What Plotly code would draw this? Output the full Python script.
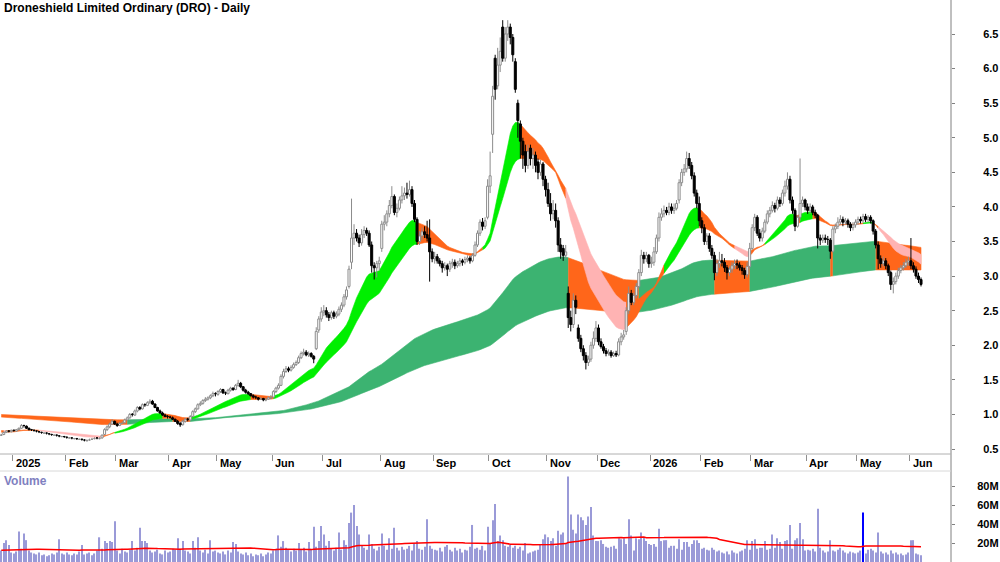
import pandas as pd
import plotly.graph_objects as go

TITLE = "Droneshield Limited Ordinary (DRO) - Daily"

# ---------------- daily OHLC (A$), Dec-2024 .. Jun-2026 ----------------
opens = [
    0.70, 0.71, 0.74, 0.76, 0.75,
    0.77, 0.76, 0.78, 0.80, 0.84, 0.83, 0.80, 0.78, 0.77, 0.76, 0.75, 0.74, 0.73, 0.73, 0.72, 0.71, 0.70, 0.70, 0.69, 0.68, 0.68,
    0.67, 0.66, 0.66, 0.65, 0.65, 0.64, 0.64, 0.63, 0.62, 0.63, 0.64, 0.65, 0.66, 0.65, 0.66, 0.71, 0.78, 0.82, 0.86, 0.90,
    0.86, 0.84, 0.87, 0.88, 0.92, 0.95, 1.00, 0.99, 1.05, 1.10, 1.08, 1.14, 1.13, 1.17, 1.19, 1.15, 1.10, 1.05, 1.02, 0.99, 0.97,
    0.96, 0.95, 0.93, 0.90, 0.87, 0.85, 0.90, 0.93, 0.92, 0.97, 1.04, 1.08, 1.14, 1.16, 1.20, 1.22, 1.24, 1.27, 1.30,
    1.29, 1.33, 1.36, 1.31, 1.30, 1.35, 1.38, 1.36, 1.42, 1.45, 1.40, 1.35, 1.32, 1.30, 1.27, 1.25, 1.24, 1.22, 1.23, 1.21, 1.22, 1.24,
    1.25, 1.33, 1.38, 1.42, 1.55, 1.62, 1.66, 1.64, 1.68, 1.72, 1.75, 1.82, 1.88, 1.90, 1.86, 1.88, 1.84, 1.95, 2.22, 2.38,
    2.48, 2.50, 2.44, 2.40, 2.47, 2.42, 2.45, 2.52, 2.58, 2.70, 2.85, 3.20, 3.55, 3.62, 3.55, 3.48, 3.60, 3.66, 3.62, 3.45, 3.15, 3.12, 3.18,
    3.40, 3.75, 3.78, 3.90, 4.02, 4.15, 3.92, 3.98, 4.10, 4.16, 4.20, 4.18, 4.25, 4.05, 3.82, 3.50, 3.58, 3.64, 3.60, 3.55, 3.35,
    3.25, 3.28, 3.22, 3.18, 3.12, 3.15, 3.10, 3.18, 3.20, 3.15, 3.18, 3.22, 3.20, 3.24, 3.26, 3.22, 3.30, 3.45, 3.62, 3.78, 3.72, 3.85,
    4.30, 5.05, 6.15, 5.75, 6.05, 6.60, 6.15, 6.50, 6.60, 6.45, 6.10, 5.50, 5.20, 4.95, 4.80, 4.60, 4.85, 4.70, 4.75, 4.65, 4.50, 4.62, 4.40,
    4.25, 4.05, 3.90, 3.95, 3.80, 3.45, 3.40, 3.30, 2.75, 2.40, 2.30, 2.65, 2.25, 2.10, 1.95, 1.85, 1.75, 1.80, 2.00, 2.10,
    2.25, 2.05, 1.98, 1.92, 1.88, 1.90, 1.85, 1.88, 1.86, 2.05, 2.12, 2.20, 2.50, 2.75, 2.62, 2.72, 2.85, 3.05, 3.30, 3.25, 3.30,
    3.18, 3.20, 3.35, 3.55, 3.85, 3.90, 3.95, 3.92, 4.00, 3.95, 3.98, 4.10, 4.35, 4.50, 4.55, 4.70, 4.60, 4.45, 4.20, 4.05,
    3.80, 3.70, 3.50, 3.58, 3.40, 3.30, 3.05, 3.18, 3.22, 3.20, 3.12, 3.05, 3.10, 3.15, 3.18, 3.16, 3.12, 3.08, 3.02, 3.14,
    3.40, 3.70, 3.85, 3.62, 3.55, 3.65, 3.78, 3.90, 3.95, 4.02, 3.98, 4.10, 4.05, 4.20, 4.30, 4.40, 4.10, 3.95, 3.72, 3.85, 4.05, 4.10,
    4.00, 3.95, 4.00, 3.92, 3.88, 3.55, 3.52, 3.55, 3.53, 3.52, 3.36, 3.68, 3.72, 3.78, 3.82, 3.78, 3.80, 3.75, 3.70, 3.74,
    3.78, 3.82, 3.80, 3.86, 3.82, 3.85, 3.80, 3.65, 3.45, 3.25, 3.18, 3.22, 3.15, 3.05, 2.88, 2.92, 3.00, 3.08, 3.12, 3.15, 3.20,
    3.22, 3.15, 3.10, 3.00, 2.95,
]
highs = [
    0.72, 0.75, 0.77, 0.77, 0.78,
    0.78, 0.79, 0.81, 0.86, 0.85, 0.84, 0.81, 0.79, 0.78, 0.77, 0.76, 0.75, 0.74, 0.74, 0.73, 0.72, 0.71, 0.71, 0.70, 0.69, 0.69,
    0.68, 0.67, 0.67, 0.66, 0.66, 0.65, 0.65, 0.64, 0.64, 0.65, 0.66, 0.67, 0.67, 0.67, 0.71, 0.80, 0.84, 0.88, 0.93, 0.91,
    0.88, 0.89, 0.90, 0.94, 0.97, 1.02, 1.02, 1.07, 1.12, 1.12, 1.16, 1.16, 1.19, 1.22, 1.21, 1.16, 1.11, 1.07, 1.04, 1.01, 0.99,
    0.98, 0.97, 0.94, 0.92, 0.89, 0.92, 0.95, 0.95, 0.99, 1.06, 1.10, 1.16, 1.19, 1.22, 1.25, 1.26, 1.29, 1.33, 1.32,
    1.35, 1.38, 1.37, 1.33, 1.37, 1.40, 1.39, 1.44, 1.50, 1.47, 1.41, 1.37, 1.34, 1.31, 1.29, 1.27, 1.25, 1.25, 1.24, 1.24, 1.26, 1.28,
    1.35, 1.40, 1.45, 1.58, 1.66, 1.70, 1.69, 1.71, 1.75, 1.78, 1.85, 1.91, 1.95, 1.93, 1.91, 1.90, 1.86, 2.26, 2.42, 2.55,
    2.58, 2.55, 2.48, 2.50, 2.50, 2.49, 2.56, 2.62, 2.74, 2.85, 3.15, 4.12, 3.75, 3.68, 3.60, 3.68, 3.72, 3.70, 3.66, 3.50, 3.20, 3.22, 3.28,
    3.80, 3.88, 3.95, 4.10, 4.30, 4.18, 4.05, 4.15, 4.30, 4.28, 4.35, 4.38, 4.30, 4.10, 3.85, 3.65, 3.70, 3.72, 3.80, 3.82, 3.40,
    3.35, 3.32, 3.26, 3.22, 3.20, 3.18, 3.22, 3.25, 3.24, 3.22, 3.26, 3.25, 3.28, 3.30, 3.29, 3.33, 3.50, 3.66, 3.82, 3.84, 3.85, 4.40,
    4.80, 5.75, 6.20, 6.30, 6.45, 6.70, 6.60, 6.70, 6.65, 6.50, 6.15, 5.55, 5.25, 5.00, 4.90, 4.90, 4.90, 4.85, 4.80, 4.70, 4.68, 4.65, 4.45,
    4.35, 4.20, 4.10, 4.05, 3.85, 3.55, 3.45, 3.45, 2.85, 2.50, 2.75, 2.72, 2.30, 2.15, 2.00, 1.90, 1.85, 2.05, 2.20, 2.35,
    2.30, 2.10, 2.02, 1.96, 1.94, 1.93, 1.91, 1.92, 2.10, 2.18, 2.22, 2.55, 2.85, 2.80, 2.76, 2.90, 3.10, 3.38, 3.35, 3.35, 3.32,
    3.28, 3.42, 3.60, 3.92, 3.98, 4.02, 4.00, 4.06, 4.05, 4.05, 4.10, 4.40, 4.55, 4.62, 4.80, 4.78, 4.65, 4.50, 4.25, 4.15,
    3.85, 3.75, 3.62, 3.62, 3.45, 3.35, 3.25, 3.35, 3.32, 3.26, 3.16, 3.14, 3.20, 3.24, 3.24, 3.20, 3.16, 3.12, 3.20, 3.48,
    3.75, 3.90, 3.88, 3.68, 3.70, 3.82, 3.95, 4.00, 4.08, 4.06, 4.15, 4.14, 4.25, 4.38, 4.50, 4.45, 4.15, 3.98, 3.88, 4.70, 4.15, 4.12,
    4.05, 4.05, 4.03, 3.96, 3.90, 3.60, 3.60, 3.60, 3.58, 3.55, 3.72, 3.76, 3.85, 3.88, 3.86, 3.84, 3.83, 3.78, 3.78, 3.82,
    3.86, 3.86, 3.90, 3.90, 3.88, 3.88, 3.82, 3.68, 3.50, 3.30, 3.28, 3.26, 3.18, 3.08, 2.98, 3.05, 3.12, 3.16, 3.20, 3.25, 3.28,
    3.55, 3.20, 3.14, 3.05, 2.98,
]
lows = [
    0.69, 0.70, 0.73, 0.74, 0.74,
    0.75, 0.75, 0.77, 0.79, 0.81, 0.79, 0.77, 0.76, 0.75, 0.74, 0.73, 0.72, 0.72, 0.71, 0.70, 0.69, 0.69, 0.68, 0.67, 0.67, 0.66,
    0.65, 0.65, 0.64, 0.64, 0.63, 0.63, 0.62, 0.61, 0.61, 0.62, 0.63, 0.64, 0.64, 0.64, 0.65, 0.70, 0.76, 0.80, 0.85, 0.85,
    0.82, 0.83, 0.86, 0.87, 0.91, 0.94, 0.97, 0.98, 1.03, 1.06, 1.07, 1.11, 1.12, 1.15, 1.14, 1.09, 1.04, 1.01, 0.98, 0.96, 0.94,
    0.94, 0.92, 0.89, 0.85, 0.82, 0.84, 0.88, 0.90, 0.91, 0.96, 1.02, 1.07, 1.12, 1.14, 1.18, 1.20, 1.22, 1.25, 1.26,
    1.27, 1.31, 1.30, 1.28, 1.29, 1.33, 1.34, 1.35, 1.40, 1.38, 1.33, 1.30, 1.28, 1.26, 1.23, 1.22, 1.20, 1.21, 1.19, 1.19, 1.21, 1.22,
    1.24, 1.31, 1.36, 1.41, 1.52, 1.60, 1.61, 1.62, 1.66, 1.70, 1.73, 1.80, 1.85, 1.84, 1.83, 1.82, 1.74, 1.93, 2.18, 2.34,
    2.42, 2.40, 2.35, 2.37, 2.38, 2.39, 2.42, 2.48, 2.55, 2.66, 2.82, 3.10, 3.45, 3.50, 3.42, 3.44, 3.55, 3.58, 3.42, 3.05, 2.95, 2.98, 3.08,
    3.35, 3.66, 3.72, 3.85, 3.98, 3.88, 3.85, 3.95, 4.05, 4.10, 4.12, 4.15, 4.00, 3.78, 3.45, 3.45, 3.52, 3.55, 3.50, 2.92, 3.20,
    3.18, 3.18, 3.14, 3.05, 3.08, 3.00, 3.06, 3.12, 3.10, 3.12, 3.14, 3.15, 3.17, 3.20, 3.18, 3.20, 3.28, 3.42, 3.58, 3.66, 3.68, 3.82,
    4.20, 4.78, 5.55, 5.70, 5.95, 6.10, 6.10, 6.40, 6.35, 6.10, 5.65, 5.00, 4.70, 4.55, 4.50, 4.55, 4.60, 4.55, 4.50, 4.40, 4.45, 4.30, 4.15,
    4.00, 3.80, 3.82, 3.70, 3.35, 3.25, 3.22, 3.25, 2.25, 2.20, 2.25, 2.45, 2.05, 1.90, 1.78, 1.65, 1.70, 1.76, 1.95, 2.05,
    2.00, 1.95, 1.88, 1.84, 1.85, 1.82, 1.83, 1.83, 1.84, 2.00, 2.08, 2.15, 2.45, 2.58, 2.58, 2.68, 2.82, 3.00, 3.18, 3.20, 3.12,
    3.12, 3.15, 3.32, 3.50, 3.80, 3.85, 3.88, 3.88, 3.90, 3.90, 3.95, 4.05, 4.30, 4.45, 4.50, 4.55, 4.40, 4.15, 3.98, 3.72,
    3.62, 3.45, 3.45, 3.35, 3.25, 2.94, 3.00, 3.12, 3.14, 3.06, 2.95, 3.00, 3.05, 3.10, 3.10, 3.08, 3.02, 2.96, 2.98, 3.10,
    3.38, 3.65, 3.58, 3.50, 3.50, 3.62, 3.75, 3.85, 3.92, 3.92, 3.95, 4.00, 4.02, 4.15, 4.25, 4.05, 3.90, 3.65, 3.70, 3.80, 4.00, 3.95,
    3.90, 3.90, 3.88, 3.84, 3.40, 3.45, 3.48, 3.48, 3.45, 3.25, 3.34, 3.62, 3.68, 3.74, 3.72, 3.74, 3.70, 3.65, 3.66, 3.70,
    3.74, 3.76, 3.77, 3.78, 3.78, 3.76, 3.60, 3.40, 3.10, 3.12, 3.14, 3.10, 3.00, 2.80, 2.75, 2.88, 2.96, 3.04, 3.08, 3.12, 3.15,
    3.10, 3.05, 2.96, 2.90, 2.85,
]
closes = [
    0.71, 0.74, 0.76, 0.75, 0.77,
    0.76, 0.78, 0.80, 0.84, 0.83, 0.80, 0.78, 0.77, 0.76, 0.75, 0.74, 0.73, 0.73, 0.72, 0.71, 0.70, 0.70, 0.69, 0.68, 0.68, 0.67,
    0.66, 0.66, 0.65, 0.65, 0.64, 0.64, 0.63, 0.62, 0.63, 0.64, 0.65, 0.66, 0.65, 0.66, 0.70, 0.78, 0.82, 0.86, 0.90, 0.86,
    0.84, 0.87, 0.88, 0.92, 0.95, 1.00, 0.99, 1.05, 1.10, 1.08, 1.14, 1.13, 1.17, 1.19, 1.15, 1.10, 1.05, 1.02, 0.99, 0.97, 0.96,
    0.95, 0.93, 0.90, 0.87, 0.85, 0.90, 0.93, 0.92, 0.97, 1.04, 1.08, 1.14, 1.16, 1.20, 1.22, 1.24, 1.27, 1.30, 1.29,
    1.33, 1.36, 1.31, 1.30, 1.35, 1.38, 1.36, 1.42, 1.45, 1.40, 1.35, 1.32, 1.30, 1.27, 1.25, 1.24, 1.22, 1.23, 1.21, 1.22, 1.24, 1.25,
    1.33, 1.38, 1.42, 1.55, 1.62, 1.66, 1.64, 1.68, 1.72, 1.75, 1.82, 1.88, 1.90, 1.86, 1.88, 1.84, 1.80, 2.20, 2.38, 2.48,
    2.50, 2.44, 2.40, 2.47, 2.42, 2.45, 2.52, 2.58, 2.70, 2.80, 3.10, 3.55, 3.62, 3.55, 3.48, 3.60, 3.66, 3.62, 3.45, 3.15, 3.12, 3.18, 3.22,
    3.75, 3.78, 3.90, 4.02, 4.15, 3.92, 3.98, 4.10, 4.16, 4.20, 4.18, 4.25, 4.05, 3.82, 3.50, 3.58, 3.64, 3.60, 3.55, 3.35, 3.25,
    3.28, 3.22, 3.18, 3.12, 3.15, 3.10, 3.18, 3.20, 3.15, 3.18, 3.22, 3.20, 3.24, 3.26, 3.22, 3.30, 3.45, 3.62, 3.78, 3.72, 3.80, 4.30,
    4.45, 5.60, 5.70, 6.05, 6.25, 6.15, 6.50, 6.60, 6.45, 6.20, 5.70, 5.25, 4.95, 4.75, 4.60, 4.80, 4.70, 4.75, 4.60, 4.50, 4.62, 4.40, 4.25,
    4.05, 3.90, 3.95, 3.80, 3.45, 3.35, 3.30, 3.35, 2.40, 2.30, 2.65, 2.55, 2.10, 1.95, 1.85, 1.75, 1.80, 2.00, 2.10, 2.25,
    2.05, 1.98, 1.92, 1.88, 1.90, 1.85, 1.88, 1.86, 2.05, 2.12, 2.15, 2.50, 2.75, 2.62, 2.72, 2.85, 3.05, 3.30, 3.25, 3.30, 3.18,
    3.20, 3.35, 3.55, 3.85, 3.90, 3.95, 3.92, 4.00, 3.95, 3.98, 4.05, 4.35, 4.50, 4.55, 4.70, 4.60, 4.45, 4.20, 4.05, 3.80,
    3.70, 3.50, 3.58, 3.40, 3.30, 3.05, 3.18, 3.22, 3.20, 3.12, 3.05, 3.10, 3.15, 3.18, 3.16, 3.12, 3.08, 3.02, 3.14, 3.40,
    3.70, 3.85, 3.62, 3.55, 3.65, 3.78, 3.90, 3.95, 4.02, 3.98, 4.10, 4.05, 4.20, 4.30, 4.40, 4.10, 3.95, 3.72, 3.85, 4.05, 4.10, 4.00,
    3.95, 4.00, 3.92, 3.88, 3.55, 3.52, 3.55, 3.53, 3.52, 3.36, 3.68, 3.72, 3.78, 3.82, 3.78, 3.80, 3.75, 3.70, 3.74, 3.78,
    3.82, 3.80, 3.86, 3.82, 3.85, 3.80, 3.65, 3.45, 3.25, 3.18, 3.22, 3.15, 3.05, 2.88, 2.92, 3.00, 3.08, 3.12, 3.15, 3.20, 3.22,
    3.15, 3.10, 3.00, 2.95, 2.88,
]
# daily volume, millions of shares
volumes_m = [
    12, 20, 23, 18, 10,
    9, 11, 32, 14, 30, 23, 12, 10, 9, 8, 10, 7, 8, 6, 7, 9, 8, 10, 24, 9, 8,
    10, 8, 7, 9, 8, 11, 18, 8, 9, 10, 7, 9, 12, 26, 14, 22, 20, 22, 21, 43,
    12, 9, 14, 11, 10, 13, 22, 12, 15, 36, 22, 22, 20, 12, 10, 11, 13, 9, 8, 12, 10,
    11, 14, 13, 25, 14, 22, 12, 11, 9, 22, 15, 26, 12, 10, 13, 9, 23, 11, 12,
    10, 9, 11, 8, 12, 10, 21, 19, 11, 9, 8, 10, 7, 9, 6, 8, 7, 9, 6, 8, 10, 9,
    12, 14, 28, 16, 22, 15, 13, 11, 14, 12, 20, 13, 15, 11, 21, 14, 37, 16, 22, 38,
    29, 17, 22, 14, 12, 15, 31, 13, 23, 18, 41, 52, 60, 38, 29, 17, 15, 13, 29, 19, 14, 12, 16,
    30, 17, 13, 25, 14, 36, 15, 12, 16, 13, 14, 17, 12, 20, 22, 14, 13, 16, 45, 17, 14,
    13, 12, 15, 11, 16, 18, 13, 11, 15, 12, 14, 10, 13, 12, 16, 39, 14, 15, 13, 17, 12, 37,
    20, 44, 61, 22, 28, 23, 17, 16, 18, 15, 17, 14, 16, 12, 20, 9, 10, 11, 12, 13, 18, 24, 29,
    26, 22, 25, 17, 33, 29, 31, 20, 90, 50, 34, 30, 50, 47, 44, 39, 48, 58, 28, 22,
    22, 23, 19, 16, 15, 16, 17, 14, 25, 24, 25, 19, 45, 28, 12, 25, 24, 31, 26, 22, 19,
    18, 19, 16, 35, 22, 23, 23, 15, 17, 17, 14, 24, 13, 21, 21, 16, 19, 23, 23, 20,
    14, 15, 13, 12, 15, 13, 11, 12, 10, 9, 11, 8, 12, 10, 9, 11, 12, 14, 23, 13,
    22, 24, 14, 15, 15, 22, 13, 14, 29, 15, 25, 21, 14, 22, 23, 39, 14, 23, 25, 41, 24, 12,
    13, 12, 14, 11, 56, 15, 12, 10, 11, 23, 12, 11, 13, 15, 12, 10, 9, 11, 10, 9,
    10, 12, 52, 9, 13, 14, 12, 10, 31, 11, 9, 10, 8, 12, 9, 10, 8, 9, 7, 8, 10,
    23, 23, 9, 8, 7,
]

first_day = "2024-12-23"
last_day = "2026-06-05"
asx_holidays = ["2024-12-25", "2024-12-26", "2025-01-01", "2025-01-27", "2025-04-18",
                "2025-04-21", "2025-04-25", "2025-06-09", "2025-12-25", "2025-12-26",
                "2026-01-01", "2026-01-26", "2026-04-03", "2026-04-06"]
highlight_day = "2026-05-05"

short_periods = [20, 23, 26, 29, 32, 35]
long_periods = [150, 176, 202, 228, 254, 280]
short_seed = [0.745, 0.75, 0.755, 0.76, 0.765, 0.77]
long_seed = [0.965, 0.972, 0.979, 0.986, 0.993, 1.0]
vol_ma_window = 60
vol_ma_seed = 12.5

price_ticks = [0.5, 1.0, 1.5, 2.0, 2.5, 3.0, 3.5, 4.0, 4.5, 5.0, 5.5, 6.0, 6.5]
vol_ticks = [20, 40, 60, 80]

# ---------------- derived ----------------
dates = pd.bdate_range(first_day, last_day)
dates = dates[~dates.isin(pd.to_datetime(asx_holidays))]
n = min(len(dates), len(opens), len(highs), len(lows), len(closes), len(volumes_m))
dates = dates[:n]
idx = list(range(n))
O, H, L, C = opens[:n], highs[:n], lows[:n], closes[:n]
H = [max(h, o, c) for h, o, c in zip(H, O, C)]
L = [min(l, o, c) for l, o, c in zip(L, O, C)]
V = volumes_m[:n]


def ema(vals, period, seed):
    a = 2.0 / (period + 1)
    e = seed
    out = []
    for v in vals:
        e += a * (v - e)
        out.append(e)
    return out


short_e = [ema(C, p, s) for p, s in zip(short_periods, short_seed)]
long_e = [ema(C, p, s) for p, s in zip(long_periods, long_seed)]
s_top = [max(e[i] for e in short_e) for i in idx]
s_bot = [min(e[i] for e in short_e) for i in idx]
l_top = [max(e[i] for e in long_e) for i in idx]
l_bot = [min(e[i] for e in long_e) for i in idx]

GREEN = "#00ef00"
ORANGE = "#ff661a"
PINK = "#ffb3b3"
LGREEN = "#3cb371"

fast = short_e[0]
s_col = []
for i in idx:
    v = [e[i] for e in short_e]
    rising = i == 0 or fast[i] >= fast[i - 1]
    if rising and all(v[k] > v[k + 1] for k in range(len(v) - 1)):
        s_col.append(GREEN)
    elif (not rising) and all(v[k] < v[k + 1] for k in range(len(v) - 1)):
        s_col.append(PINK)
    else:
        s_col.append(ORANGE)
l_col = [ORANGE if C[i] < l_top[i] else LGREEN for i in idx]


def band_traces(top, bot, cols):
    traces = []
    start = 0
    for k in range(1, n + 1):
        if k == n or cols[k] != cols[start]:
            end = min(k, n - 1)
            seg = list(range(start, end + 1))
            xs = seg + seg[::-1]
            ys = [top[j] for j in seg] + [bot[j] for j in seg[::-1]]
            traces.append(go.Scatter(x=xs, y=ys, fill="toself", fillcolor=cols[start],
                                     mode="lines", line=dict(width=0.6, color=cols[start]),
                                     hoverinfo="skip", showlegend=False))
            start = k
    return traces


fig = go.Figure()
for t in band_traces(l_top, l_bot, l_col):
    fig.add_trace(t)
for t in band_traces(s_top, s_bot, s_col):
    fig.add_trace(t)

# candles (wicks then bodies)
hw = 0.4
wu_x, wu_y, wd_x, wd_y = [], [], [], []
bu_x, bu_y, bd_x, bd_y = [], [], [], []
for i in idx:
    o, h, l, c = O[i], H[i], L[i], C[i]
    if c >= o:
        wu_x += [i, i, None]; wu_y += [l, h, None]
        bu_x += [i - hw, i + hw, i + hw, i - hw, i - hw, None]
        bu_y += [o, o, c, c, o, None]
    else:
        wd_x += [i, i, None]; wd_y += [l, h, None]
        bd_x += [i - hw, i + hw, i + hw, i - hw, i - hw, None]
        bd_y += [o, o, c, c, o, None]
fig.add_trace(go.Scatter(x=wu_x, y=wu_y, mode="lines", line=dict(color="#8c8c8c", width=1),
                         hoverinfo="skip", showlegend=False))
fig.add_trace(go.Scatter(x=wd_x, y=wd_y, mode="lines", line=dict(color="black", width=1),
                         hoverinfo="skip", showlegend=False))
fig.add_trace(go.Scatter(x=bu_x, y=bu_y, mode="lines", fill="toself", fillcolor="white",
                         line=dict(color="#8c8c8c", width=1), hoverinfo="skip", showlegend=False))
fig.add_trace(go.Scatter(x=bd_x, y=bd_y, mode="lines", fill="toself", fillcolor="black",
                         line=dict(color="black", width=1), hoverinfo="skip", showlegend=False))

# volume
hl = pd.Timestamp(highlight_day)
vcols = ["#0000ff" if d == hl else "#9a9ad8" for d in dates]
fig.add_trace(go.Bar(x=idx, y=V, marker=dict(color=vcols, line=dict(width=0)), width=0.45,
                     xaxis="x2", yaxis="y2", hoverinfo="skip", showlegend=False))
padded = pd.Series([vol_ma_seed] * (vol_ma_window - 1) + list(V))
vma = padded.rolling(vol_ma_window).mean().iloc[vol_ma_window - 1:].tolist()
fig.add_trace(go.Scatter(x=idx, y=vma, mode="lines", line=dict(color="#ff0000", width=1.5),
                         xaxis="x2", yaxis="y2", hoverinfo="skip", showlegend=False))

# month boundaries
month_starts, month_labels = [], []
for i in range(1, n):
    if dates[i].month != dates[i - 1].month:
        month_starts.append(i)
        month_labels.append(str(dates[i].year) if dates[i].month == 1 else dates[i].strftime("%b"))

FONT = "Liberation Sans, Arial, sans-serif"
XR = [-0.5, 376.9]
P_BOT = (562 - 454) / 562
V_TOP = (562 - 471) / 562

annotations = []
for s, lab in zip(month_starts, month_labels):
    annotations.append(dict(x=s - 0.5, y=(562 - 463) / 562, xref="x", yref="paper",
                            text="<b>%s</b>" % lab, showarrow=False, xanchor="left",
                            yanchor="middle", xshift=1,
                            font=dict(family=FONT, size=11, color="black")))
annotations.append(dict(x=0, y=1, xref="paper", yref="paper", text="<b>%s</b>" % TITLE,
                        showarrow=False, xanchor="left", yanchor="top", xshift=2, yshift=1,
                        font=dict(family=FONT, size=12, color="black")))
annotations.append(dict(x=0, y=V_TOP, xref="paper", yref="paper", text="<b>Volume</b>",
                        showarrow=False, xanchor="left", yanchor="top", xshift=2, yshift=-1,
                        font=dict(family=FONT, size=12, color="#8080c0")))

shapes = [
    dict(type="line", xref="paper", yref="paper", x0=1, x1=1, y0=0, y1=1,
         line=dict(color="#808080", width=1)),
    dict(type="line", xref="paper", yref="paper", x0=0, x1=1, y0=P_BOT, y1=P_BOT,
         line=dict(color="#b0b0b0", width=1)),
    dict(type="line", xref="paper", yref="paper", x0=0, x1=1, y0=V_TOP, y1=V_TOP,
         line=dict(color="#d8d8d8", width=1)),
]

fig.update_layout(
    width=1000, height=562, margin=dict(l=0, r=49, t=0, b=0),
    paper_bgcolor="white", plot_bgcolor="white", showlegend=False,
    annotations=annotations, shapes=shapes,
    xaxis=dict(domain=[0, 1], range=XR, anchor="y", showgrid=False, zeroline=False,
               showline=False, tickvals=[s - 0.5 for s in month_starts], ticks="outside",
               ticklen=6, tickcolor="#909090", showticklabels=False, fixedrange=True),
    xaxis2=dict(domain=[0, 1], range=XR, anchor="y2", showgrid=False, zeroline=False,
                showline=False, showticklabels=False, ticks="", fixedrange=True),
    yaxis=dict(domain=[P_BOT, 1], range=[0.4277, 6.9915], side="right", anchor="x",
               showgrid=False, zeroline=False, showline=False,
               tickvals=price_ticks, ticktext=["%.1f" % t for t in price_ticks],
               ticks="outside", ticklen=3, tickcolor="#808080", ticklabelstandoff=26,
               tickfont=dict(family=FONT, size=11, color="black", weight="bold"),
               fixedrange=True),
    yaxis2=dict(domain=[0, V_TOP], range=[0, 95.8], side="right", anchor="x2",
                showgrid=False, zeroline=False, showline=False,
                tickvals=vol_ticks, ticktext=["%dM" % t for t in vol_ticks],
                ticks="outside", ticklen=3, tickcolor="#808080", ticklabelstandoff=20,
                tickfont=dict(family=FONT, size=11, color="black", weight="bold"),
                fixedrange=True),
)

fig.write_html("out.html")
